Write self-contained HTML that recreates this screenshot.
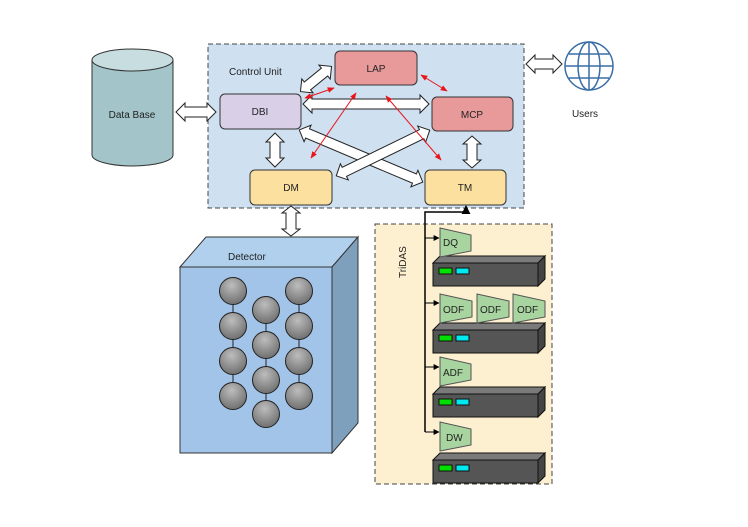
<!DOCTYPE html>
<html><head><meta charset="utf-8"><style>
html,body{margin:0;padding:0;background:#fff;}
svg{display:block;font-family:"Liberation Sans",sans-serif;}
</style></head><body>
<svg width="748" height="527" viewBox="0 0 748 527" xmlns="http://www.w3.org/2000/svg">
<defs>
<marker id="rh" viewBox="0 0 10 10" refX="9" refY="5" markerWidth="7" markerHeight="7" orient="auto-start-reverse"><path d="M0,1 L10,5 L0,9 z" fill="#e8141a"/></marker>
<marker id="bh" viewBox="0 0 10 10" refX="9" refY="5" markerWidth="6" markerHeight="6" orient="auto"><path d="M0,0 L10,5 L0,10 z" fill="#000"/></marker>
<radialGradient id="ball" cx="0.45" cy="0.3" r="0.75"><stop offset="0" stop-color="#bdbdbd"/><stop offset="1" stop-color="#6a6a6a"/></radialGradient>
</defs>

<rect x="208" y="44" width="316" height="164" fill="#cfe0f0" stroke="#444" stroke-dasharray="5,3"/>
<text x="229" y="75" font-size="10" fill="#222">Control Unit</text>

<g fill="#fff" stroke="#222" stroke-width="1">
<polygon transform="translate(361,156) rotate(22.9)" points="-67,0 -58,-9 -58,-5 58,-5 58,-9 67,0 58,9 58,5 -58,5 -58,9"/>
<polygon transform="translate(383,153) rotate(-26)" points="-52,0 -43,-9 -43,-5 43,-5 43,-9 52,0 43,9 43,5 -43,5 -43,9"/>
<polygon transform="translate(196,112)" points="-20,0 -11,-9 -11,-5 11,-5 11,-9 20,0 11,9 11,5 -11,5 -11,9"/>
<polygon transform="translate(544,64)" points="-18,0 -9,-9 -9,-5 9,-5 9,-9 18,0 9,9 9,5 -9,5 -9,9"/>
<polygon transform="translate(316,79) rotate(-39)" points="-20,0 -11,-9 -11,-5 11,-5 11,-9 20,0 11,9 11,5 -11,5 -11,9"/>
<polygon transform="translate(366,104)" points="-63,0 -54,-9 -54,-5 54,-5 54,-9 63,0 54,9 54,5 -54,5 -54,9"/>
<polygon transform="translate(275,150) rotate(90)" points="-17,0 -8,-9 -8,-5 8,-5 8,-9 17,0 8,9 8,5 -8,5 -8,9"/>
<polygon transform="translate(472,152) rotate(90)" points="-16,0 -8,-9 -8,-5 8,-5 8,-9 16,0 8,9 8,5 -8,5 -8,9"/>
<polygon transform="translate(291,221) rotate(90)" points="-15,0 -8,-9 -8,-5 8,-5 8,-9 15,0 8,9 8,5 -8,5 -8,9"/>
</g>

<g stroke="#333" stroke-width="1">
<rect x="335" y="51" width="82" height="34" rx="5" fill="#e89a9a"/>
<rect x="220" y="94" width="81" height="35" rx="5" fill="#d9d0e8"/>
<rect x="432" y="97" width="81" height="34" rx="5" fill="#e89a9a"/>
<rect x="250" y="170" width="82" height="35" rx="5" fill="#fbe0a0"/>
<rect x="425" y="170" width="81" height="35" rx="5" fill="#fbe0a0"/>
</g>
<g font-size="10" fill="#222" text-anchor="middle">
<text x="376" y="72">LAP</text>
<text x="260" y="115">DBI</text>
<text x="472" y="118">MCP</text>
<text x="291" y="191">DM</text>
<text x="465" y="191">TM</text>
</g>

<g stroke="#e8141a" stroke-width="1" marker-start="url(#rh)" marker-end="url(#rh)">
<line x1="305" y1="98" x2="334" y2="88"/>
<line x1="421" y1="75" x2="447" y2="91"/>
<line x1="356" y1="93" x2="311" y2="158"/>
<line x1="386" y1="96" x2="441" y2="160"/>
</g>

<path d="M92,60 L92,155 A40.5,11 0 0 0 173,155 L173,60" fill="#a3c4c8" stroke="#333"/>
<ellipse cx="132.5" cy="60" rx="40.5" ry="11" fill="#c7dde0" stroke="#333"/>
<text x="132" y="118" font-size="10" text-anchor="middle" fill="#222">Data Base</text>

<g fill="none" stroke="#3a6ea5" stroke-width="1.5">
<circle cx="589" cy="66" r="24"/>
<ellipse cx="589" cy="66" rx="11" ry="24"/>
<line x1="589" y1="42" x2="589" y2="90"/>
<line x1="565" y1="66" x2="613" y2="66"/>
<line x1="569" y1="54" x2="609" y2="54"/>
<line x1="569" y1="78" x2="609" y2="78"/>
</g>
<text x="585" y="117" font-size="10" text-anchor="middle" fill="#222">Users</text>

<polygon points="180,267 206,237 358,237 332,267" fill="#b0d0ee" stroke="#333"/>
<polygon points="332,267 358,237 358,423 332,453" fill="#7fa0bc" stroke="#333"/>
<rect x="180" y="267" width="152" height="186" fill="#a2c4e8" stroke="#333"/>
<text x="228" y="260" font-size="10" fill="#222">Detector</text>
<g stroke="#222" stroke-width="1">
<line x1="233" y1="291" x2="233" y2="396"/>
<line x1="266" y1="310" x2="266" y2="414"/>
<line x1="299" y1="291" x2="299" y2="396"/>
</g>
<g fill="url(#ball)" stroke="#222">
<circle cx="233" cy="291" r="13.5"/><circle cx="233" cy="326" r="13.5"/><circle cx="233" cy="361" r="13.5"/><circle cx="233" cy="396" r="13.5"/>
<circle cx="266" cy="310" r="13.5"/><circle cx="266" cy="345" r="13.5"/><circle cx="266" cy="380" r="13.5"/><circle cx="266" cy="414" r="13.5"/>
<circle cx="299" cy="291" r="13.5"/><circle cx="299" cy="326" r="13.5"/><circle cx="299" cy="361" r="13.5"/><circle cx="299" cy="396" r="13.5"/>
</g>

<rect x="375" y="224" width="177" height="260" fill="#fdf0d0" stroke="#444" stroke-dasharray="5,3"/>
<text transform="translate(406,278) rotate(-90)" font-size="10" fill="#222">TriDAS</text>

<g stroke="#000" stroke-width="1.5" fill="none">
<polyline points="425,432 425,212 466,212 466,206" marker-end="url(#bh)"/>
</g>
<g stroke="#000" stroke-width="1" marker-end="url(#bh)">
<line x1="425" y1="238" x2="439" y2="238"/>
<line x1="425" y1="303" x2="439" y2="303"/>
<line x1="425" y1="367" x2="439" y2="367"/>
<line x1="425" y1="432" x2="439" y2="432"/>
</g>

<g stroke="#111" stroke-width="1">
<g id="r1">
<polygon points="433,263 440,256 545,256 538,263" fill="#7a7a7a"/>
<rect x="433" y="263" width="105" height="23" fill="#555"/>
<polygon points="538,263 545,256 545,279 538,286" fill="#444"/>
<rect x="439" y="268" width="13" height="6" fill="#00e000"/>
<rect x="456" y="268" width="13" height="6" fill="#00e8f0"/>
</g>
<use href="#r1" y="67"/>
<use href="#r1" y="131"/>
<use href="#r1" y="197"/>
</g>

<g fill="#a8d4a0" stroke="#555" stroke-width="1">
<polygon points="440,228 471,235 471,251 440,257"/>
<polygon points="440,294 472,301 472,317 440,323"/>
<polygon points="477,294 509,301 509,317 477,323"/>
<polygon points="513,294 545,301 545,317 513,323"/>
<polygon points="440,357 471,364 471,380 440,386"/>
<polygon points="440,422 471,429 471,445 440,451"/>
</g>
<g font-size="10" fill="#222">
<text x="443" y="246">DQ</text>
<text x="443" y="313">ODF</text>
<text x="480" y="313">ODF</text>
<text x="517" y="313">ODF</text>
<text x="443" y="376">ADF</text>
<text x="446" y="441">DW</text>
</g>
</svg>
</body></html>
